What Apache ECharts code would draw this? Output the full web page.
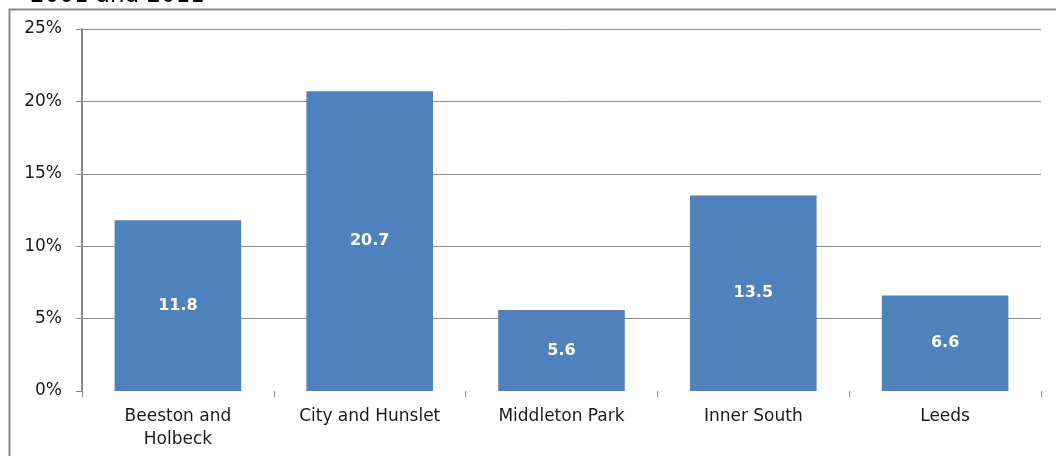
<!DOCTYPE html>
<html>
<head>
<meta charset="utf-8">
<script src="https://cdn.jsdelivr.net/npm/echarts@6/dist/echarts.min.js"></script>
<style>
  html, body { margin: 0; padding: 0; background: #fff; }
  #chart { width: 1056px; height: 456px; }
</style>
</head>
<body>
<div id="chart"></div>
<script>
const categories = ['Beeston and\nHolbeck', 'City and Hunslet', 'Middleton Park', 'Inner South', 'Leeds']
const values = [11.8, 20.7, 5.6, 13.5, 6.6]
const yTicks = [0, 5, 10, 15, 20, 25]

const chart = echarts.init(document.getElementById('chart'))
const font = 'DejaVu Sans'

chart.setOption({
  animation: false,
  title: {
    text: '2001 and 2011',
    left: 25,
    top: -20,
    textStyle: { fontFamily: font, fontSize: 23, fontWeight: 'normal', color: '#000' }
  },
  graphic: [
    {
      type: 'rect',
      shape: { x: 9.5, y: 9.5, width: 1200, height: 600 },
      style: { fill: 'none', stroke: '#8a8a8a', lineWidth: 2 },
      silent: true
    }
  ],
  grid: { left: 82, right: 15, top: 29, bottom: 65 },
  xAxis: {
    type: 'category',
    data: categories,
    axisLine: { show: false },
    axisTick: { show: true, length: 6, lineStyle: { color: '#8a8a8a' } },
    axisLabel: { fontFamily: font, fontSize: 17, color: '#1a1a1a', margin: 14, lineHeight: 23 }
  },
  yAxis: {
    type: 'value',
    min: 0,
    max: 25,
    interval: 5,
    axisLine: { show: true, lineStyle: { color: '#8a8a8a', width: 2 } },
    axisTick: { show: true, length: 6, lineStyle: { color: '#8a8a8a' } },
    axisLabel: {
      fontFamily: font, fontSize: 17, color: '#1a1a1a', margin: 20,
      formatter: v => yTicks.includes(v) ? v + '%' : ''
    },
    splitLine: { showMinLine: false, lineStyle: { color: '#8a8a8a', width: 1 } }
  },
  series: [
    {
      type: 'bar',
      data: values,
      barCategoryGap: '34%',
      itemStyle: { color: '#4F81BD' },
      label: {
        show: true,
        position: 'inside',
        color: '#fff',
        fontFamily: font,
        fontWeight: 'bold',
        fontSize: 16
      }
    }
  ]
})
</script>
</body>
</html>
